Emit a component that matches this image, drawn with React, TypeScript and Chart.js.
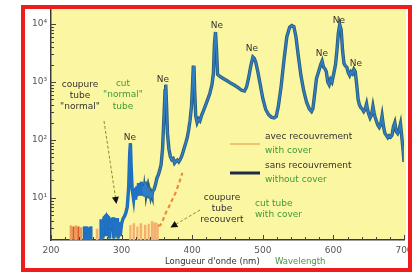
import React, { useEffect, useRef } from 'react';
import { Chart, registerables } from 'chart.js';
Chart.register(...registerables);

// ---- data ----
const withoutCoverNm = [
  247, 247, 247.6, 247.6, 250, 250, 250.6, 250.6, 253, 253, 253.6, 253.6, 256, 256, 256.6, 256.6,
  271, 271, 273, 273.5, 275, 277, 278, 280, 282, 283, 285, 286, 288, 289, 291, 292, 294, 295, 297, 298, 300,
  302, 304, 306, 308, 310, 311.5, 312.5, 313.5, 315, 317, 318, 319, 320, 321, 322, 323, 324, 325, 326, 327,
  328, 329, 330, 331, 332, 333, 334, 335, 336, 337, 338, 339, 340, 341, 342, 343, 344, 346, 348, 350, 352,
  354, 356, 358, 360, 361.5, 362.5, 363.5, 365, 367, 369, 371, 373, 375, 377, 379, 381, 383, 385, 387, 389,
  391, 393, 395, 397, 399, 400.5, 401.5, 402.5, 403.5, 405, 407, 409, 411, 413, 416, 419, 422, 425, 428, 430,
  431.5, 433, 434.5, 436, 440, 445, 450, 455, 460, 465, 470, 474, 477, 480, 483, 486, 488, 490, 493, 497, 500,
  504, 508, 512, 516, 519, 522, 526, 530, 534, 538, 541, 544, 547, 550, 554, 558, 562, 566, 569, 571, 574,
  576, 579, 582, 584, 586, 588, 590, 592, 594, 596, 598, 600, 603, 605, 607, 609, 611, 613, 615, 617, 619,
  621, 623, 625, 627, 629, 631, 633, 635, 637, 639, 641, 643, 645, 647, 648.5, 650, 652, 654, 656, 657.5,
  659, 661, 663, 665, 667, 669, 671, 673, 675, 677, 679, 681, 683, 685, 687, 689, 691, 693, 695, 697, 699, 700,
];
const withoutCoverCounts = [
  1, 3.2, 3.2, 1, 1, 3.2, 3.2, 1, 1, 3.1, 3.1, 1, 1, 3.2, 3.2, 1,
  1, 4, 4, 2, 4.5, 4.8, 2.2, 4.8, 4.5, 2, 4.5, 3, 4.6, 2, 4, 2.2, 4.5, 2, 3.8, 2.2, 3.6,
  4.4, 4.8, 5.5, 7, 15, 60, 88, 35, 14, 9.5, 13, 10, 15, 10.5, 16, 11, 18, 12, 15, 11,
  19, 12, 16, 11, 14, 10.5, 19, 12, 14, 11, 13, 10.5, 12, 10.5, 12, 11, 13, 14, 17, 22, 25,
  30, 38, 70, 250, 700, 900, 450, 130, 70, 52, 46, 48, 40, 43, 45, 42, 46, 52, 62, 75,
  90, 110, 150, 220, 380, 900, 1800, 1900, 700, 260, 200, 230, 215, 260, 320, 400, 500, 640, 900, 1400,
  4500, 7300, 3500, 1350, 1230, 1130, 1040, 950, 880, 800, 720, 700, 820, 1200, 1900, 2700, 2550, 2200, 1500, 820, 520,
  340, 275, 248, 240, 255, 380, 850, 2400, 6000, 8800, 9400, 9000, 6000, 3000, 1300, 700, 450, 340, 310, 350, 700,
  1150, 1500, 2000, 2300, 1800, 1700, 1500, 1000, 900, 1100, 1000, 1300, 2000, 3500, 7000, 9800, 8000, 3500, 2100, 1900, 1800,
  1450, 1300, 1500, 1400, 1650, 1500, 900, 500, 400, 360, 340, 310, 340, 420, 330, 280, 240, 270, 380, 300,
  250, 210, 180, 165, 185, 260, 170, 130, 120, 110, 118, 112, 120, 170, 200, 140, 130, 150, 190, 110, 60, 42,
];
const withCoverNm = [
  228, 228, 228.6, 228.6, 231.5, 231.5, 232.1, 232.1, 235, 235, 235.6, 235.6, 238.5, 238.5, 239.1, 239.1,
  242, 242, 242.6, 242.6, 265, 265, 265.6, 265.6,
  312, 312, 312.6, 312.6, 317, 317, 317.6, 317.6, 322, 322, 322.6, 322.6, 327, 327, 327.6, 327.6,
  333, 333, 333.6, 333.6, 338, 338, 338.6, 338.6, 343, 343, 343.6, 343.6, 347, 347, 347.6, 347.6, 351, 351, 352,
  355, 358, 361, 364, 367, 370, 373, 376, 379, 382, 386,
];
const withCoverCounts = [
  1, 3.2, 3.2, 1, 1, 3.2, 3.2, 1, 1, 3.2, 3.2, 1, 1, 3.2, 3.2, 1,
  1, 3.0, 3.0, 1, 1, 2.8, 2.8, 1,
  1, 3.4, 3.4, 1, 1, 3.5, 3.5, 1, 1, 3.2, 3.2, 1, 1, 3.5, 3.5, 1,
  1, 3.3, 3.3, 1, 1, 3.6, 3.6, 1, 1, 3.8, 3.8, 1, 1, 3.6, 3.6, 1, 1, 3.4, 3.3,
  3.4, 4, 5, 6, 7, 8.5, 10, 12, 15, 19, 27,
];
const xMajorTicks = [200, 300, 400, 500, 600, 700];
const yTickLabels: Record<string, string> = { '10': '10¹', '100': '10²', '1000': '10³', '10000': '10⁴' };

const FONT = '"DejaVu Sans", sans-serif';
const DARK = '#333333';
const GREEN = '#3f9a3a';

const toPoints = (xs: number[], ys: number[]) => xs.map((x, i) => ({ x, y: ys[i] }));

const decorPlugin = {
  id: 'decor',
  beforeDraw(chart: any) {
    const { ctx, chartArea } = chart;
    ctx.save();
    ctx.fillStyle = '#fbf6a2';
    ctx.fillRect(chartArea.left, chartArea.top, chartArea.right - chartArea.left + 2, chartArea.bottom - chartArea.top);
    ctx.restore();
  },
  afterDraw(chart: any) {
    const { ctx, chartArea, scales } = chart;
    const xs = scales.x, ys = scales.y;
    ctx.save();
    // inward tick marks
    ctx.strokeStyle = '#444';
    ctx.lineWidth = 1;
    xs.ticks.forEach((t: any) => {
      const px = Math.round(xs.getPixelForValue(t.value)) + 0.5;
      const len = xMajorTicks.includes(t.value) ? 5 : 3;
      ctx.beginPath();
      ctx.moveTo(px, chartArea.bottom);
      ctx.lineTo(px, chartArea.bottom - len);
      ctx.stroke();
    });
    ys.ticks.forEach((t: any) => {
      const v = t.value;
      const e = Math.floor(Math.log10(v) + 1e-9);
      const s = v / Math.pow(10, e);
      if (Math.abs(s - Math.round(s)) > 1e-6) return;
      const py = Math.round(ys.getPixelForValue(v)) + 0.5;
      if (py < chartArea.top || py > chartArea.bottom) return;
      const len = Math.round(s) === 1 ? 5 : 3;
      ctx.beginPath();
      ctx.moveTo(chartArea.left, py);
      ctx.lineTo(chartArea.left + len, py);
      ctx.stroke();
    });

    const text = (s: string, x: number, y: number, color: string, align: CanvasTextAlign = 'center', size = 9) => {
      ctx.font = `${size}px ${FONT}`;
      ctx.fillStyle = color;
      ctx.textAlign = align;
      ctx.textBaseline = 'middle';
      ctx.fillText(s, x, y);
    };
    const arrow = (x1: number, y1: number, x2: number, y2: number) => {
      ctx.strokeStyle = '#8c8a2c';
      ctx.lineWidth = 1;
      ctx.setLineDash([3, 2]);
      ctx.beginPath();
      ctx.moveTo(x1, y1);
      ctx.lineTo(x2, y2);
      ctx.stroke();
      ctx.setLineDash([]);
      const a = Math.atan2(y2 - y1, x2 - x1);
      const L = 7, W = 3.5;
      const tx = x2 + Math.cos(a) * 3, ty = y2 + Math.sin(a) * 3;
      ctx.fillStyle = '#111';
      ctx.beginPath();
      ctx.moveTo(tx, ty);
      ctx.lineTo(tx - L * Math.cos(a) + W * Math.sin(a), ty - L * Math.sin(a) - W * Math.cos(a));
      ctx.lineTo(tx - L * Math.cos(a) - W * Math.sin(a), ty - L * Math.sin(a) + W * Math.cos(a));
      ctx.closePath();
      ctx.fill();
    };

    // Ne labels
    [[130, 138], [163, 80], [217, 26], [252, 49], [322, 54], [339, 21], [356, 64]].forEach(([x, y]) =>
      text('Ne', x, y, DARK, 'center', 9));

    // annotations
    text('coupure', 80, 85, DARK);
    text('tube', 80, 96, DARK);
    text('"normal"', 80, 107, DARK);
    text('cut', 123, 84, GREEN);
    text('"normal"', 123, 95, GREEN);
    text('tube', 123, 107, GREEN);
    arrow(104, 121, 116, 201);

    text('coupure', 222, 198, DARK);
    text('tube', 222, 209, DARK);
    text('recouvert', 222, 220, DARK);
    text('cut tube', 255, 204, GREEN, 'left');
    text('with cover', 255, 215, GREEN, 'left');
    arrow(200, 210, 173, 226);

    // legend
    ctx.strokeStyle = '#e8b45c';
    ctx.lineWidth = 1.5;
    ctx.beginPath();
    ctx.moveTo(230, 144);
    ctx.lineTo(260, 144);
    ctx.stroke();
    ctx.strokeStyle = '#1c2c44';
    ctx.lineWidth = 3;
    ctx.beginPath();
    ctx.moveTo(230, 173);
    ctx.lineTo(260, 173);
    ctx.stroke();
    text('avec recouvrement', 265, 137, DARK, 'left');
    text('with cover', 265, 151, GREEN, 'left');
    text('sans recouvrement', 265, 166, DARK, 'left');
    text('without cover', 265, 180, GREEN, 'left');

    // axis title
    text("Longueur d'onde (nm)", 165, 262, DARK, 'left', 8.5);
    text('Wavelength', 275, 262, GREEN, 'left', 8.5);
    ctx.restore();
  },
};

function App() {
  const ref = useRef<HTMLCanvasElement | null>(null);
  useEffect(() => {
    if (!ref.current) return;
    const blue = toPoints(withoutCoverNm, withoutCoverCounts);
    const orange = toPoints(withCoverNm, withCoverCounts);
    const chart = new Chart(ref.current, {
      type: 'line',
      data: {
        datasets: [
          {
            label: 'sans recouvrement / without cover',
            data: blue,
            borderColor: '#2f7dc2',
            borderWidth: 1.8,
            pointRadius: 0,
            tension: 0,
            order: 0,
            segment: {
              borderColor: (c: any) => (c.p0.parsed.x < 330 ? '#1f72c4' : '#2f7dc2'),
            },
          } as any,
          {
            label: 'outline',
            data: blue,
            borderColor: '#2c5a70',
            borderWidth: 3.4,
            pointRadius: 0,
            tension: 0,
            order: 1,
            segment: {
              borderColor: (c: any) => (c.p0.parsed.x < 330 ? '#1f6cb8' : '#2c5a70'),
            },
          } as any,
          {
            label: 'avec recouvrement / with cover',
            data: orange,
            borderColor: '#f2a35e',
            borderWidth: 2.2,
            pointRadius: 0,
            tension: 0,
            order: 2,
            segment: {
              borderColor: (c: any) => {
                const x = c.p0.parsed.x;
                if (x < 245) return (Math.floor((x - 228) / 3.5) % 2 === 0) ? '#f09a58' : '#dc5a2e';
                if (x >= 352) return '#ee8a40';
                return '#f4ae70';
              },
              borderDash: (c: any) => (c.p0.parsed.x >= 352 ? [4, 3] : undefined),
            },
          } as any,
        ],
      },
      options: {
        responsive: false,
        animation: false,
        layout: { padding: { left: 21, top: 9, right: 8, bottom: 0 } },
        plugins: { legend: { display: false }, tooltip: { enabled: false } },
        scales: {
          x: {
            type: 'linear',
            min: 200,
            max: 700,
            afterFit: (s: any) => { s.height = 32; s.paddingLeft = 0; s.paddingRight = 0; },
            ticks: {
              stepSize: 20,
              autoSkip: false,
              maxRotation: 0,
              padding: 5,
              color: '#555',
              font: { family: FONT, size: 9 },
              callback: (v: any) => (xMajorTicks.includes(Number(v)) ? String(v) : ''),
            },
            grid: { display: true, drawOnChartArea: false, drawTicks: false },
            border: { display: true, color: '#3a3a3a', width: 1.5 },
          },
          y: {
            type: 'logarithmic',
            min: 1.88,
            max: 18200,
            afterFit: (s: any) => { s.width = 30; s.paddingTop = 0; s.paddingBottom = 0; },
            ticks: {
              autoSkip: false,
              padding: 4,
              color: '#555',
              font: { family: FONT, size: 9 },
              callback: (v: any) => yTickLabels[String(Number(v))] ?? '',
            },
            grid: { display: true, drawOnChartArea: false, drawTicks: false },
            border: { display: true, color: '#3a3a3a', width: 1.5 },
          },
        },
      },
      plugins: [decorPlugin],
    } as any);
    return () => chart.destroy();
  }, []);

  return (
    <div style={{ position: 'fixed', left: 0, top: 0, width: 412, height: 272, background: '#ffffff', overflow: 'hidden' }}>
      <canvas ref={ref} width={412} height={272} style={{ position: 'absolute', left: 0, top: 0, width: 412, height: 272 }} />
      <div
        style={{
          position: 'absolute', left: 21, top: 5, width: 391, height: 267,
          boxSizing: 'border-box', border: '4px solid #ee1c1c', pointerEvents: 'none',
        }}
      />
    </div>
  );
}

export default App;
